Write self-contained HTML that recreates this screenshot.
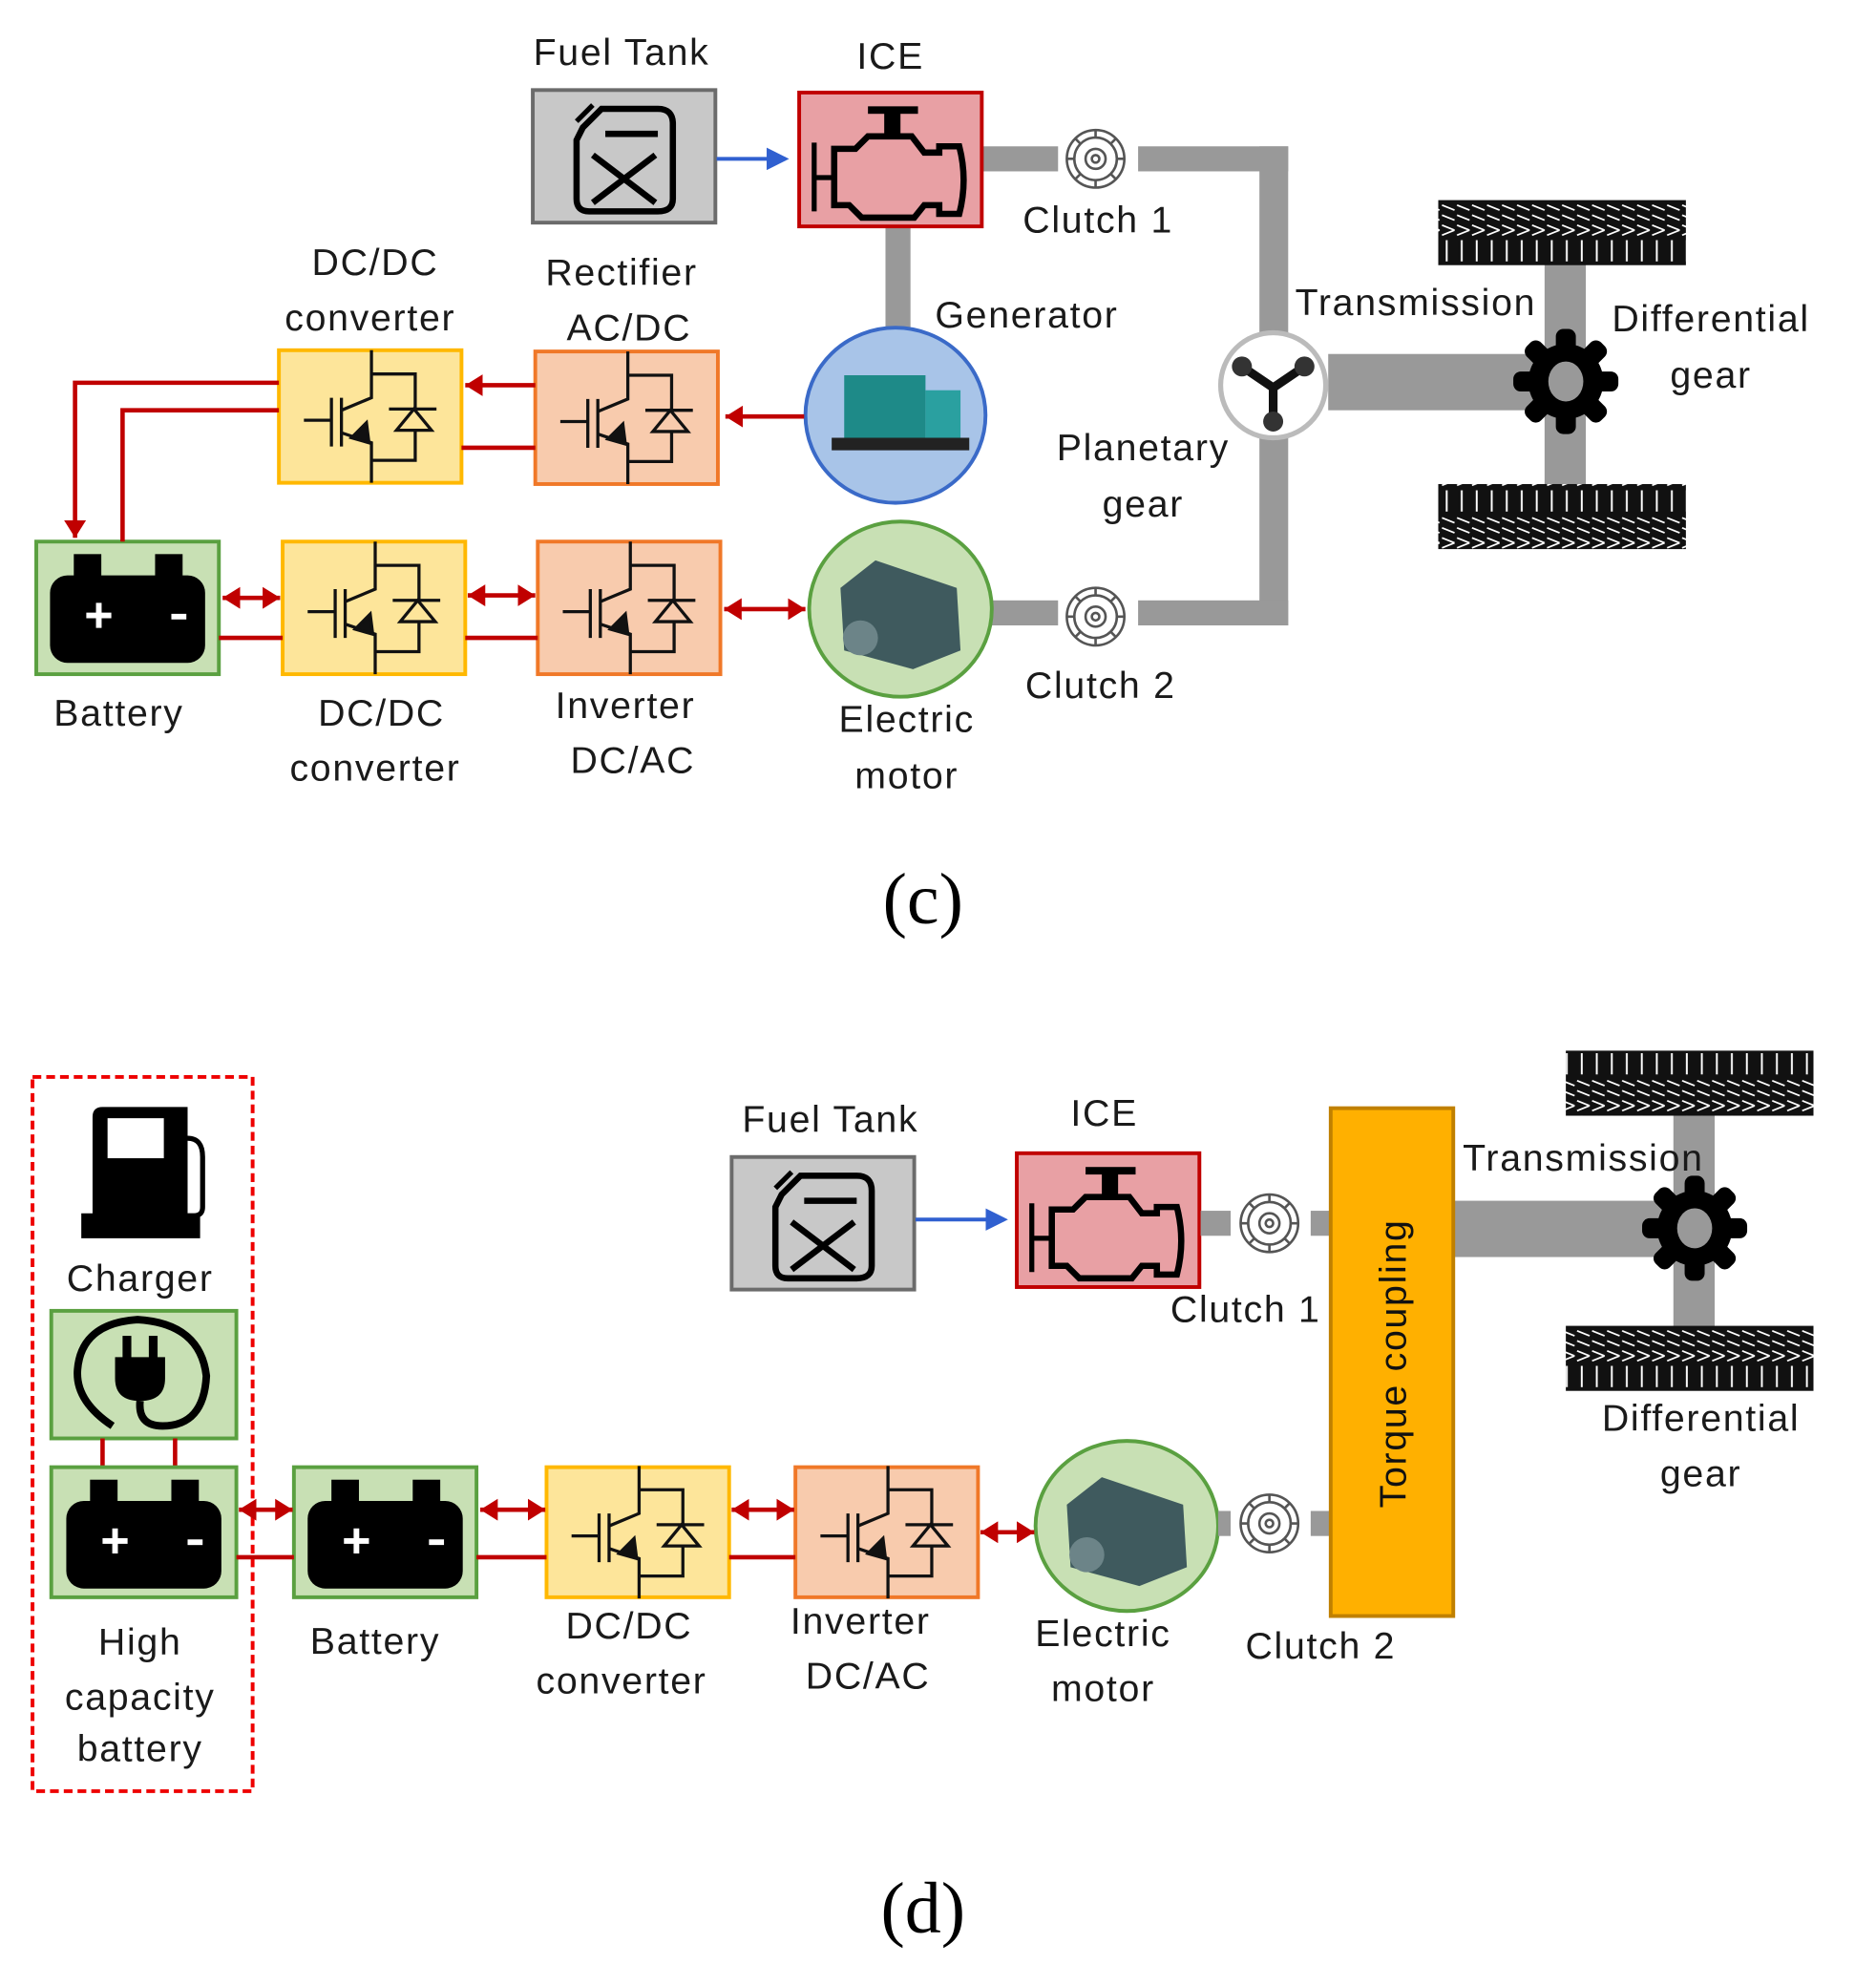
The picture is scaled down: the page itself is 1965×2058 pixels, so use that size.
<!DOCTYPE html>
<html><head><meta charset="utf-8"><style>
html,body{margin:0;padding:0;background:#fff;}
svg{display:block;}
text{font-family:"Liberation Sans",sans-serif;font-size:30px;letter-spacing:1.3px;fill:#1a1a1a;}
.ser{font-family:"Liberation Serif",serif;font-size:58px;letter-spacing:0;fill:#000;}
</style></head><body>
<svg width="1965" height="2058" viewBox="0 0 1500 1571" xmlns="http://www.w3.org/2000/svg">
<defs>
<pattern id="tread" width="12" height="50" patternUnits="userSpaceOnUse">
<rect width="12" height="50" fill="#111"/>
<path d="M1 14 L11 18 M1 22 L11 26 M1 30 L11 34 M1 38 L11 34" stroke="#fff" stroke-width="1.3"/>
<rect x="4" y="0" width="1.5" height="9" fill="#fff"/>
<rect x="4" y="42" width="1.5" height="8" fill="#fff"/>
</pattern>
<marker id="ar" markerWidth="4" markerHeight="5" refX="4" refY="2.5" orient="auto" markerUnits="strokeWidth"><path d="M0,0 L4,2.5 L0,5 Z" fill="#c00000"/></marker>
<marker id="al" markerWidth="4" markerHeight="5" refX="0" refY="2.5" orient="auto" markerUnits="strokeWidth"><path d="M4,0 L0,2.5 L4,5 Z" fill="#c00000"/></marker>
<marker id="ab" markerWidth="6" markerHeight="6" refX="5" refY="3" orient="auto" markerUnits="strokeWidth"><path d="M0,0 L6,3 L0,6 Z" fill="#3060d0"/></marker>
<g id="igbt" fill="none" stroke="#111" stroke-width="2.5">
<path d="M74 0 V19 H109 V47 M88 47 H126 M109 64 V88 H74 M74 106 V74 L50 66 M50 48 L74 38 V0"/>
<path d="M94 64 H122 L108 47 Z"/>
<path d="M20 56 H42 M42 38 V77 M50 38 V77"/>
<path d="M58 70 L70 58 L72 74 Z" fill="#111"/>
</g>
<g id="batt">
<rect x="32" y="10" width="22" height="18" fill="#000"/>
<rect x="97" y="10" width="22" height="18" fill="#000"/>
<rect x="13" y="27" width="124" height="70" rx="14" fill="#000"/>
<path d="M42 59 H62 M52 49 V69" stroke="#fff" stroke-width="4.5"/>
<path d="M110 60 H122" stroke="#fff" stroke-width="4.5"/>
</g>
<g id="tank">
<rect x="0" y="0" width="146" height="106" fill="#c8c8c8" stroke="#6b6b6b" stroke-width="3"/>
<path d="M40 30 L55 15 H100 Q112 15 112 27 V87 Q112 97 100 97 H45 Q35 97 35 87 V40 Z" fill="none" stroke="#000" stroke-width="5"/>
<path d="M48 52 L98 90 M98 52 L48 90" stroke="#000" stroke-width="5"/>
<path d="M58 35 H100" stroke="#000" stroke-width="5"/>
<path d="M35 25 L48 12" stroke="#000" stroke-width="4"/>
</g>
<g id="ice">
<rect x="0" y="0" width="146" height="107" fill="#e8a0a4" stroke="#c00000" stroke-width="3"/>
<path d="M28 45 L45 45 L55 35 L90 35 L100 48 L112 48 L112 43 L128 43 Q135 70 128 97 L112 97 L112 90 L100 90 L92 100 L50 100 L40 90 L28 90 Z" fill="none" stroke="#000" stroke-width="5"/>
<path d="M12 40 V95 M12 68 H28" stroke="#000" stroke-width="4"/>
<rect x="55" y="11" width="40" height="6" fill="#000"/>
<rect x="68" y="15" width="13" height="20" fill="#000"/>
</g>
<g id="clutch" fill="none" stroke="#555" stroke-width="2">
<circle r="23" fill="#fff"/><circle r="17"/><circle r="8"/><circle r="3"/>
<path d="M0 -23 V-17 M16 -16 L12 -12 M23 0 H17 M16 16 L12 12 M0 23 V17 M-16 16 L-12 12 M-23 0 H-17 M-16 -16 L-12 -12"/>
</g>
<g id="gear">
<circle r="30" fill="#000"/>
<g fill="#000"><rect x="-8" y="-42" width="16" height="84" rx="6"/><rect x="-8" y="-42" width="16" height="84" rx="6" transform="rotate(45)"/><rect x="-8" y="-42" width="16" height="84" rx="6" transform="rotate(90)"/><rect x="-8" y="-42" width="16" height="84" rx="6" transform="rotate(135)"/></g>
<ellipse rx="14" ry="16" fill="#999"/>
</g>
</defs>

<!-- ============ (c) ============ -->
<g fill="#999">
<rect x="784" y="117" width="62" height="20"/>
<rect x="910" y="117" width="120" height="20"/>
<rect x="1007" y="117" width="23" height="155"/>
<rect x="1007" y="345" width="23" height="155"/>
<rect x="910" y="480" width="120" height="20"/>
<rect x="790" y="480" width="56" height="20"/>
<rect x="708" y="181" width="20" height="85"/>
<rect x="1062" y="283" width="170" height="45"/>
<rect x="1235" y="208" width="33" height="185"/>
</g>
<rect x="1150" y="160" width="198" height="52" fill="url(#tread)"/>
<rect x="1150" y="387" width="198" height="52" fill="url(#tread)"/>
<use href="#gear" x="1252" y="305"/>
<ellipse cx="1018" cy="308" rx="42" ry="42" fill="#fff" stroke="#bbb" stroke-width="4"/>
<path d="M1018 310 L993 293 M1018 310 L1043 293 M1018 310 V335" stroke="#111" stroke-width="7" stroke-linecap="round"/>
<circle cx="993" cy="293" r="8" fill="#333"/><circle cx="1043" cy="293" r="8" fill="#333"/><circle cx="1018" cy="337" r="8" fill="#333"/>
<use href="#clutch" x="876" y="127"/>
<use href="#clutch" x="876" y="493"/>

<use href="#tank" x="426" y="72"/>
<use href="#ice" x="639" y="74"/>
<line x1="573" y1="127" x2="628" y2="127" stroke="#3060d0" stroke-width="3" marker-end="url(#ab)"/>

<ellipse cx="716" cy="332" rx="72" ry="70" fill="#a8c4e8" stroke="#3a6ac8" stroke-width="3"/>
<rect x="675" y="300" width="65" height="52" fill="#1e8a88"/>
<rect x="665" y="350" width="110" height="10" fill="#222"/>
<rect x="740" y="312" width="28" height="38" fill="#2aa0a0"/>
<ellipse cx="720" cy="487" rx="73" ry="70" fill="#c8e0b4" stroke="#5aa040" stroke-width="3"/>
<path d="M672 470 L700 448 L765 470 L768 520 L730 535 L675 520 Z" fill="#3f5a5e"/>
<circle cx="688" cy="510" r="14" fill="#6c8488"/>

<rect x="428" y="281" width="146" height="106" fill="#f8cbad" stroke="#f07828" stroke-width="3"/>
<use href="#igbt" x="428" y="281"/>
<rect x="223" y="280" width="146" height="106" fill="#fde59a" stroke="#ffb800" stroke-width="3"/>
<use href="#igbt" x="223" y="280"/>
<rect x="29" y="433" width="146" height="106" fill="#c8e0b4" stroke="#5aa040" stroke-width="3"/>
<use href="#batt" x="27" y="433"/>
<rect x="226" y="433" width="146" height="106" fill="#fde59a" stroke="#ffb800" stroke-width="3"/>
<use href="#igbt" x="226" y="433"/>
<rect x="430" y="433" width="146" height="106" fill="#f8cbad" stroke="#f07828" stroke-width="3"/>
<use href="#igbt" x="430" y="433"/>

<g stroke="#c00000" stroke-width="3.5" fill="none">
<line x1="643" y1="333" x2="580" y2="333" marker-end="url(#ar)"/>
<line x1="428" y1="308" x2="372" y2="308" marker-end="url(#ar)"/>
<line x1="428" y1="358" x2="369" y2="358"/>
<polyline points="223,306 60,306 60,430" marker-end="url(#ar)"/>
<polyline points="223,328 98,328 98,433"/>
<line x1="178" y1="478" x2="224" y2="478" marker-start="url(#al)" marker-end="url(#ar)"/>
<line x1="374" y1="476" x2="428" y2="476" marker-start="url(#al)" marker-end="url(#ar)"/>
<line x1="579" y1="487" x2="644" y2="487" marker-start="url(#al)" marker-end="url(#ar)"/>
<line x1="175" y1="510" x2="226" y2="510"/>
<line x1="372" y1="510" x2="430" y2="510"/>
</g>

<g text-anchor="middle">
<text x="497" y="52">Fuel Tank</text>
<text x="712" y="55">ICE</text>
<text x="878" y="186">Clutch 1</text>
<text x="300" y="220">DC/DC</text>
<text x="296" y="264">converter</text>
<text x="497" y="228">Rectifier</text>
<text x="503" y="272">AC/DC</text>
<text x="821" y="262">Generator</text>
<text x="1132" y="252">Transmission</text>
<text x="1368" y="265">Differential</text>
<text x="1368" y="310">gear</text>
<text x="914" y="368">Planetary</text>
<text x="914" y="413">gear</text>
<text x="95" y="580">Battery</text>
<text x="305" y="580">DC/DC</text>
<text x="300" y="624">converter</text>
<text x="500" y="574">Inverter</text>
<text x="506" y="618">DC/AC</text>
<text x="725" y="585">Electric</text>
<text x="725" y="630">motor</text>
<text x="880" y="558">Clutch 2</text>
<text x="738" y="738" class="ser">(c)</text>
</g>

<!-- ============ (d) ============ -->
<rect x="26" y="861" width="176" height="571" fill="none" stroke="#e00" stroke-width="3" stroke-dasharray="7,4"/>
<path d="M82 885 H150 Q150 885 150 895 V970 H160 V990 H65 V970 H74 V893 Q74 885 82 885 Z" fill="#000"/>
<rect x="86" y="894" width="45" height="32" fill="#fff"/>
<path d="M150 910 Q162 910 162 925 V965 Q162 972 155 972 H150" fill="none" stroke="#000" stroke-width="4"/>
<text x="112" y="1032" text-anchor="middle">Charger</text>
<rect x="41" y="1048" width="148" height="102" fill="#c8e0b4" stroke="#5aa040" stroke-width="3"/>
<path d="M90 1140 Q60 1120 62 1095 Q65 1058 110 1055 Q160 1058 165 1100 Q163 1140 130 1140 Q110 1140 112 1120" fill="none" stroke="#000" stroke-width="6"/>
<path d="M92 1085 H132 V1102 Q132 1120 112 1120 Q92 1120 92 1102 Z" fill="#000"/>
<rect x="98" y="1068" width="7" height="20" fill="#000"/><rect x="119" y="1068" width="7" height="20" fill="#000"/>
<g stroke="#c00000" stroke-width="3.5"><line x1="82" y1="1150" x2="82" y2="1173"/><line x1="140" y1="1150" x2="140" y2="1173"/></g>
<rect x="41" y="1173" width="148" height="104" fill="#c8e0b4" stroke="#5aa040" stroke-width="3"/>
<use href="#batt" x="40" y="1173"/>
<rect x="235" y="1173" width="146" height="104" fill="#c8e0b4" stroke="#5aa040" stroke-width="3"/>
<use href="#batt" x="233" y="1173"/>
<rect x="437" y="1173" width="146" height="104" fill="#fde59a" stroke="#ffb800" stroke-width="3"/>
<use href="#igbt" x="437" y="1172"/>
<rect x="636" y="1173" width="146" height="104" fill="#f8cbad" stroke="#f07828" stroke-width="3"/>
<use href="#igbt" x="636" y="1172"/>
<ellipse cx="901" cy="1220" rx="73" ry="68" fill="#c8e0b4" stroke="#5aa040" stroke-width="3"/>
<path d="M853 1203 L881 1181 L946 1203 L949 1253 L911 1268 L856 1253 Z" fill="#3f5a5e"/>
<circle cx="869" cy="1243" r="14" fill="#6c8488"/>
<g stroke="#c00000" stroke-width="3.5" fill="none">
<line x1="191" y1="1207" x2="234" y2="1207" marker-start="url(#al)" marker-end="url(#ar)"/>
<line x1="384" y1="1207" x2="436" y2="1207" marker-start="url(#al)" marker-end="url(#ar)"/>
<line x1="585" y1="1207" x2="635" y2="1207" marker-start="url(#al)" marker-end="url(#ar)"/>
<line x1="784" y1="1225" x2="827" y2="1225" marker-start="url(#al)" marker-end="url(#ar)"/>
<line x1="189" y1="1245" x2="235" y2="1245"/>
<line x1="381" y1="1245" x2="437" y2="1245"/>
<line x1="583" y1="1245" x2="636" y2="1245"/>
</g>
<use href="#tank" x="585" y="925"/>
<use href="#ice" x="813" y="922"/>
<line x1="732" y1="975" x2="803" y2="975" stroke="#3060d0" stroke-width="3" marker-end="url(#ab)"/>
<g fill="#999">
<rect x="960" y="968" width="24" height="20"/>
<rect x="1048" y="968" width="16" height="20"/>
<rect x="974" y="1208" width="10" height="20"/>
<rect x="1048" y="1208" width="16" height="20"/>
<rect x="1162" y="960" width="170" height="45"/>
<rect x="1338" y="888" width="33" height="180"/>
</g>
<rect x="1252" y="840" width="198" height="52" fill="url(#tread)"/>
<rect x="1252" y="1060" width="198" height="52" fill="url(#tread)"/>
<use href="#gear" x="1355" y="982"/>
<use href="#clutch" x="1015" y="978"/>
<use href="#clutch" x="1015" y="1218"/>
<rect x="1064" y="886" width="98" height="406" fill="#ffb000" stroke="#c08000" stroke-width="3"/>
<text transform="translate(1124 1090) rotate(-90)" text-anchor="middle" style="fill:#111">Torque coupling</text>
<g text-anchor="middle">
<text x="664" y="905">Fuel Tank</text>
<text x="883" y="900">ICE</text>
<text x="996" y="1057">Clutch 1</text>
<text x="1266" y="936">Transmission</text>
<text x="1360" y="1144">Differential</text>
<text x="1360" y="1188">gear</text>
<text x="112" y="1323">High</text>
<text x="112" y="1367">capacity</text>
<text x="112" y="1408">battery</text>
<text x="300" y="1322">Battery</text>
<text x="503" y="1310">DC/DC</text>
<text x="497" y="1354">converter</text>
<text x="688" y="1306">Inverter</text>
<text x="694" y="1350">DC/AC</text>
<text x="882" y="1316">Electric</text>
<text x="882" y="1360">motor</text>
<text x="1056" y="1326">Clutch 2</text>
<text x="738" y="1545" class="ser">(d)</text>
</g>
</svg>
</body></html>
